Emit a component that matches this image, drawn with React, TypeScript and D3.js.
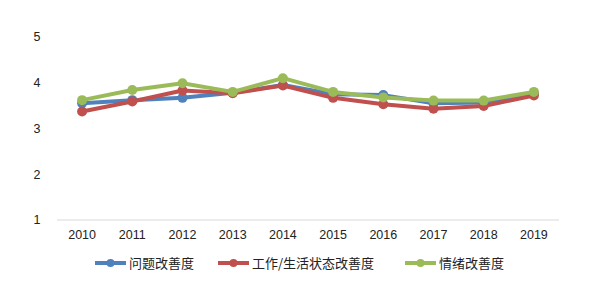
import React from "react";
import * as d3 from "d3";

const years = ["2010","2011","2012","2013","2014","2015","2016","2017","2018","2019"];
const problem = [3.55,3.62,3.67,3.78,3.95,3.75,3.73,3.55,3.57,3.77];
const work = [3.37,3.59,3.83,3.77,3.94,3.67,3.53,3.43,3.49,3.72];
const mood = [3.62,3.84,3.99,3.80,4.10,3.80,3.68,3.61,3.61,3.80];
const yTicks = [1,2,3,4,5];
const seriesNames = ["问题改善度","工作/生活状态改善度","情绪改善度"];
const colors = ["#4F81BD","#C0504D","#9BBB59"];

export default function App() {
  const W = 590, H = 288;
  const x = d3.scaleBand<string>().domain(years).range([57, 559]);
  const y = d3.scaleLinear().domain([1, 5]).range([220, 37]);
  const line = d3.line<number>().x((_, i) => (x(years[i]) as number) + x.bandwidth() / 2).y(d => y(d));
  const series = [problem, work, mood];
  const legendX = [95, 218, 405];
  const font = "'Liberation Sans', Arial, sans-serif";
  const cjk = "'Noto Sans CJK SC', sans-serif";
  return (
    <svg width={W} height={H} style={{ position: "absolute", left: 0, top: 0, background: "#fff" }}>
      <line x1={57} x2={559} y1={y(1)} y2={y(1)} stroke="#d9d9d9" strokeWidth={1} />
      {yTicks.map(t => (
        <text key={t} x={37} y={y(t)} dy="0.35em" textAnchor="middle" fontSize={12.5} fontFamily={font} fill="#222">{t}</text>
      ))}
      {years.map(yr => (
        <text key={yr} x={(x(yr) as number) + x.bandwidth() / 2} y={235} dy="0.35em" textAnchor="middle" fontSize={12.5} fontFamily={font} fill="#222">{yr}</text>
      ))}
      {series.map((s, k) => (
        <g key={k}>
          <path d={line(s) || ""} fill="none" stroke={colors[k]} strokeWidth={4} strokeLinejoin="round" />
          {s.map((v, i) => (
            <circle key={i} cx={(x(years[i]) as number) + x.bandwidth() / 2} cy={y(v)} r={5} fill={colors[k]} />
          ))}
        </g>
      ))}
      {seriesNames.map((n, k) => (
        <g key={n}>
          <line x1={legendX[k]} x2={legendX[k] + 31} y1={263} y2={263} stroke={colors[k]} strokeWidth={4} />
          <circle cx={legendX[k] + 15.5} cy={263} r={4} fill={colors[k]} />
          <text x={legendX[k] + 34} y={263} dy="0.35em" fontSize={13} fontFamily={cjk} fill="#222">{n}</text>
        </g>
      ))}
    </svg>
  );
}
